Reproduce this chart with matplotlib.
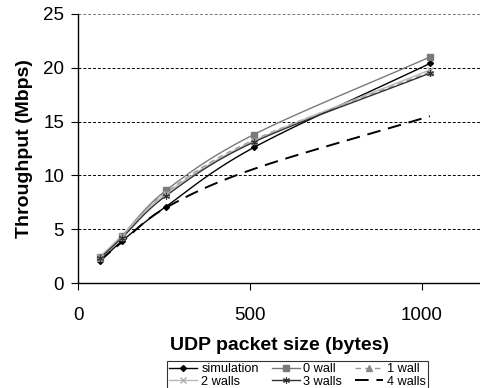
import numpy as np
import matplotlib
matplotlib.use("Agg")
import matplotlib.pyplot as plt
from matplotlib.lines import Line2D

plt.rcParams['font.family'] = ['Liberation Sans', 'DejaVu Sans']

packet_sizes = [64, 128, 256, 512, 1024]
series_names = ["simulation", "0 wall", "1 wall", "2 walls", "3 walls", "4 walls"]
simulation = [2.0, 3.9, 7.1, 12.6, 20.4]
wall0 = [2.4, 4.4, 8.6, 13.8, 21.0]
wall1 = [2.3, 4.3, 8.4, 13.3, 19.6]
wall2 = [2.4, 4.4, 8.3, 13.2, 19.8]
wall3 = [2.3, 4.2, 8.1, 13.1, 19.5]
wall4 = [2.1, 3.8, 7.0, 10.6, 15.5]
y_ticks = [0, 5, 10, 15, 20, 25]
x_ticks = [0, 500, 1000]


def smooth(x, y, n=30):
    # Catmull-Rom rendering of a smoothed line through the data points
    x = np.asarray(x, float); y = np.asarray(y, float)
    px = np.concatenate([[2 * x[0] - x[1]], x, [2 * x[-1] - x[-2]]])
    py = np.concatenate([[2 * y[0] - y[1]], y, [2 * y[-1] - y[-2]]])
    xs, ys = [], []
    t = np.linspace(0, 1, n)
    for i in range(1, len(px) - 2):
        p0, p1, p2, p3 = [np.array([px[j], py[j]]) for j in (i - 1, i, i + 1, i + 2)]
        tt = t[:, None]
        pts = 0.5 * ((2 * p1) + (-p0 + p2) * tt + (2 * p0 - 5 * p1 + 4 * p2 - p3) * tt ** 2
                     + (-p0 + 3 * p1 - 3 * p2 + p3) * tt ** 3)
        xs.extend(pts[:, 0]); ys.extend(pts[:, 1])
    return np.array(xs), np.array(ys)


fig = plt.figure(figsize=(4.8, 3.88), dpi=100)
ax = fig.add_axes([78 / 480, 1 - 283 / 388, (480 - 78) / 480, (283 - 14) / 388])

styles = [
    (simulation, dict(color='black', ls='-', lw=1.0), dict(marker='D', ms=3, color='black')),
    (wall0, dict(color='#7a7a7a', ls='-', lw=1.0), dict(marker='s', ms=4, color='#7a7a7a')),
    (wall1, dict(color='#9a9a9a', ls=(0, (4, 3)), lw=1.0), dict(marker='^', ms=4, color='#8a8a8a')),
    (wall2, dict(color='#b8b8b8', ls='-', lw=1.0), dict(marker='x', ms=4, color='#b0b0b0', mew=1)),
    (wall3, dict(color='#333333', ls='-', lw=1.0), dict(marker=(6, 2, 0), ms=5, color='#333333', mew=0.8)),
    (wall4, dict(color='black', ls=(0, (7, 4)), lw=1.4), dict(marker='None', color='black')),
]

handles = []
for (vals, lstyle, mstyle), name in zip(styles, series_names):
    sx, sy = smooth(packet_sizes, vals)
    ax.plot(sx, sy, zorder=3, **lstyle)
    ax.plot(packet_sizes, vals, ls='none', zorder=4, **mstyle)
    handles.append(Line2D([], [], label=name, **lstyle,
                          **{k: v for k, v in mstyle.items() if k != 'color'},
                          markerfacecolor=mstyle['color'], markeredgecolor=mstyle['color']))

ax.set_xlim(0, 1170)
ax.set_ylim(0, 25)
ax.set_xticks(x_ticks)
ax.set_yticks(y_ticks)
ax.tick_params(labelsize=13.5, direction='out', length=5)
ax.tick_params(axis='x', pad=12)
ax.tick_params(axis='y', pad=5)
for v in y_ticks[1:]:
    ax.axhline(v, color='black' if v < 25 else '#777777', lw=0.7, ls=(0, (3, 2)), zorder=1)
for s in ('top', 'right'):
    ax.spines[s].set_visible(False)
ax.spines['left'].set_linewidth(1.0)
ax.spines['bottom'].set_linewidth(1.0)

ax.set_xlabel("UDP packet size (bytes)", fontsize=14, fontweight='bold', labelpad=10)
ax.set_ylabel("Throughput (Mbps)", fontsize=14, fontweight='bold', labelpad=7)

# legend filled row-wise like the reference: reorder for matplotlib's column-wise fill
order = [0, 3, 1, 4, 2, 5]
leg = fig.legend(handles=[handles[i] for i in order], ncol=3, loc='upper left',
                 bbox_to_anchor=(161 / 480, 1 - 355 / 388),
                 fontsize=9.2, frameon=True, fancybox=False, edgecolor='black', handlelength=2.2,
                 handletextpad=0.3, columnspacing=1.0, borderpad=0.15, labelspacing=0.05)
leg.get_frame().set_linewidth(0.8)

fig.savefig("out.png", dpi=100)
